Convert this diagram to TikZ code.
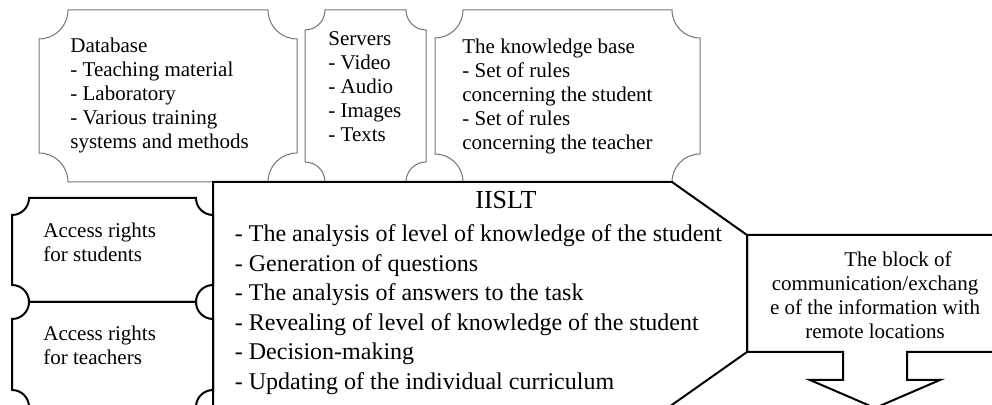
\documentclass[tikz,border=0pt]{standalone}
\usepackage{fontspec}
\setmainfont{Liberation Serif}
\usetikzlibrary{positioning,calc}

% box with concave (ticket) corners: [style]{x0}{y0}{x1}{y1}{radius}
\newcommand{\ticket}[6][]{%
  \draw[#1] (#2+#6,#3) -- (#4-#6,#3) arc[start angle=180, end angle=90, radius=#6]
    -- (#4,#5-#6) arc[start angle=-90, end angle=-180, radius=#6]
    -- (#2+#6,#5) arc[start angle=0, end angle=-90, radius=#6]
    -- (#2,#3+#6) arc[start angle=90, end angle=0, radius=#6] -- cycle;}

\begin{document}
\begin{tikzpicture}[
    x=0.5pt, y=-0.5pt,
    topbox/.style={draw=black!55, line width=0.5pt},
    blkbox/.style={draw=black, line width=1pt, line join=miter},
    txt/.style={anchor=base west, inner sep=0pt, align=left, font=\fontsize{10.5}{12.1}\selectfont},
    listtxt/.style={anchor=base west, inner sep=0pt, align=left, font=\fontsize{12}{14.8}\selectfont}
]
\useasboundingbox (0,0) rectangle (992,405);
\clip (0,0) rectangle (992,405);

% Upper blocks (text placed by its last baseline)
\ticket[topbox]{39}{10}{297}{182}{29}
\ticket[topbox]{305}{10}{426}{182}{20}
\ticket[topbox]{435}{10}{700}{182}{28}

\node[txt] (db) at (70,149) {Database\\- Teaching material\\- Laboratory\\- Various training\\systems and methods};
\node[txt] (srv) at (328,142) {Servers\\- Video\\- Audio\\- Images\\- Texts};
\node[txt] (kb) at (462,150) {The knowledge base\\- Set of rules\\concerning the student\\- Set of rules\\concerning the teacher};

% Access rights
\ticket[blkbox]{12}{198}{213}{302}{17}
\ticket[blkbox]{12}{302}{213}{407}{17}

\node[txt] (stud) at (43,262) {Access rights\\for students};
\node[txt] (teach) at (43,365) {Access rights\\for teachers};

% IISLT
\draw[blkbox] (213,407) -- (213,182) -- (672,182) -- (747,235) -- (747,352) -- (669,407) -- cycle;
\node[anchor=base, inner sep=0pt, font=\fontsize{13}{15}\selectfont] (iislt) at (506,208.6) {IISLT};
\node[listtxt] (tasks) at (234.5,389.6) {- The analysis of level of knowledge of the student\\- Generation of questions\\- The analysis of answers to the task\\- Revealing of level of knowledge of the student\\- Decision-making\\- Updating of the individual curriculum};

% Communication block with arrow
\draw[blkbox] (747,235) -- (1003,235) -- (1003,352) -- (907,352) -- (907,380) -- (940,380)
    -- (875,408) -- (810,380) -- (843,380) -- (843,352) -- (747,352) -- cycle;
\node[txt, anchor=base, align=center] (comm) at (875,339) {\hspace*{23pt}The block of\\communication/exchang\\e of the information with\\remote locations};

\end{tikzpicture}
\end{document}
